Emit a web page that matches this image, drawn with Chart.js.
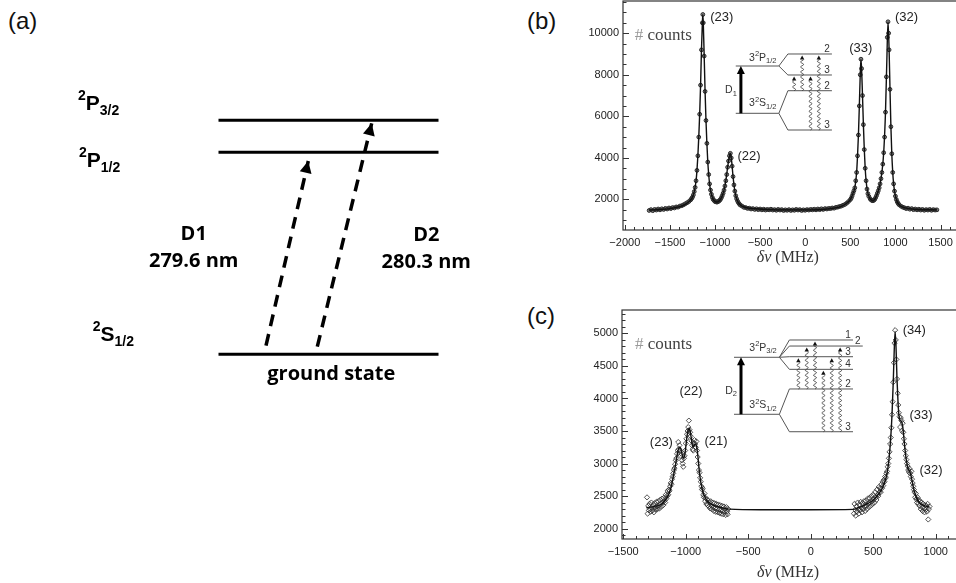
<!DOCTYPE html>
<html lang="en">
<head>
<meta charset="UTF-8">
<title>Mg+ D1 / D2 fluorescence spectra</title>
<script src="https://cdn.jsdelivr.net/npm/chart.js@4"></script>
<style>
  html, body { margin: 0; padding: 0; background: #fff; }
  body { position: relative; width: 956px; height: 583px; overflow: hidden; }
  canvas { position: absolute; }
  .tag { position: absolute; font: 24px/1 'Liberation Sans', Arial, sans-serif; color: #111; }
</style>
</head>
<body>
  <div class="tag" style="left:8px; top:9px">(a)</div>
  <div class="tag" style="left:527px; top:9px">(b)</div>
  <div class="tag" style="left:527px; top:304px">(c)</div>
  <canvas id="scheme" width="520" height="583" style="left:0; top:0"></canvas>
  <canvas id="specD1" width="400" height="275" style="left:560px; top:0"></canvas>
  <canvas id="specD2" width="400" height="284" style="left:560px; top:300px"></canvas>

<script>
// ---------- level scheme (a) ----------
const levelSymbol = ['S', 'P', 'P'];
const levelJ      = ['1/2', '1/2', '3/2'];
const levelEnergy = [0, 2.02, 2.34];          // arbitrary units, ground = 0

const transitionNames      = ['D1', 'D2'];
const transitionWavelength = [279.6, 280.3];  // nm
const transitionUpper      = [1, 2];          // index into levelEnergy

// ---------- D1 scan (b) : [detuning MHz, counts] ----------
const d1Scan = [
  [-1730,1470],[-1710,1510],[-1690,1460],[-1670,1520],[-1650,1490],[-1630,1540],[-1610,1500],[-1590,1550],
  [-1570,1520],[-1550,1570],[-1530,1540],[-1510,1590],[-1490,1560],[-1470,1610],[-1450,1590],[-1430,1640],
  [-1410,1630],[-1390,1680],[-1370,1700],[-1350,1740],[-1330,1790],[-1310,1840],[-1290,1900],[-1270,1980],
  [-1260,2040],[-1250,2110],[-1240,2220],[-1230,2380],[-1220,2580],[-1210,2900],[-1200,3400],[-1190,4100],
  [-1180,5000],[-1170,6100],[-1160,7500],[-1150,9200],[-1140,10500],[-1135,10900],[-1130,10500],[-1120,8900],
  [-1110,7200],[-1100,5800],[-1090,4700],[-1080,3800],[-1070,3200],[-1060,2750],[-1050,2450],[-1040,2250],
  [-1030,2100],[-1020,2000],[-1010,1950],[-1000,1900],[-990,1890],[-980,1870],[-970,1890],[-960,1910],
  [-950,1950],[-940,2000],[-930,2080],[-920,2180],[-910,2300],[-900,2450],[-890,2650],[-880,2900],
  [-870,3200],[-860,3550],[-850,3850],[-840,4100],[-830,4220],[-820,4000],[-810,3600],[-800,3100],
  [-790,2700],[-780,2400],[-770,2180],[-760,2030],[-750,1920],[-740,1840],[-730,1780],[-720,1730],
  [-700,1680],[-680,1620],[-660,1610],[-640,1570],[-620,1580],[-600,1540],[-580,1560],[-560,1520],
  [-540,1550],[-520,1510],[-500,1540],[-480,1500],[-460,1530],[-440,1490],[-420,1520],[-400,1500],
  [-380,1530],[-360,1490],[-340,1510],[-320,1480],[-300,1520],[-280,1490],[-260,1510],[-240,1470],
  [-220,1500],[-200,1480],[-180,1510],[-160,1470],[-140,1500],[-120,1480],[-100,1520],[-80,1490],
  [-60,1510],[-40,1470],[-20,1500],[0,1480],[20,1510],[40,1490],[60,1520],[80,1500],
  [100,1530],[120,1500],[140,1540],[160,1510],[180,1550],[200,1520],[220,1560],[240,1540],
  [260,1570],[280,1560],[300,1590],[320,1580],[340,1620],[360,1630],[380,1660],[400,1680],
  [420,1720],[440,1760],[460,1820],[480,1900],[500,1990],[510,2060],[520,2170],[530,2300],
  [540,2420],[550,2560],[560,2900],[570,3300],[580,4100],[590,5100],[600,6500],[610,8000],
  [618,8750],[625,8300],[635,7000],[645,5600],[655,4400],[665,3500],[675,2900],[685,2500],
  [695,2280],[705,2150],[720,2030],[730,1980],[740,1950],[750,1940],[760,1960],[770,2000],
  [780,2080],[790,2180],[800,2300],[810,2420],[820,2560],[830,2750],[840,3000],[850,3300],
  [860,3700],[870,4250],[880,5000],[890,6200],[900,7900],[910,9800],[918,10550],[925,10000],
  [930,9200],[940,7300],[950,5500],[960,4200],[970,3300],[980,2750],[990,2400],[1000,2160],
  [1010,2000],[1020,1890],[1030,1810],[1040,1750],[1060,1680],[1080,1630],[1100,1600],[1120,1560],
  [1140,1580],[1160,1530],[1180,1560],[1200,1510],[1220,1540],[1240,1500],[1260,1530],[1280,1490],
  [1300,1520],[1320,1480],[1340,1510],[1360,1490],[1380,1520],[1400,1480],[1420,1510],[1440,1490],
  [1460,1500]
];
const d1Fit = [
  [-1730,1490],[-1600,1520],[-1500,1560],[-1400,1640],[-1340,1740],[-1300,1850],[-1270,1980],[-1250,2110],
  [-1230,2380],[-1210,2900],[-1200,3400],[-1190,4100],[-1180,5000],[-1170,6100],[-1160,7500],[-1150,9200],
  [-1140,10500],[-1135,10900],[-1130,10500],[-1120,8900],[-1110,7200],[-1100,5800],[-1090,4700],[-1080,3800],
  [-1070,3200],[-1060,2750],[-1050,2450],[-1040,2250],[-1020,2000],[-1000,1900],[-980,1880],[-960,1910],
  [-940,2000],[-920,2180],[-900,2450],[-880,2900],[-860,3550],[-845,4000],[-830,4220],[-815,3820],
  [-800,3100],[-785,2550],[-770,2180],[-750,1920],[-730,1780],[-700,1680],[-650,1600],[-550,1550],
  [-400,1510],[-200,1500],[0,1500],[200,1520],[300,1570],[400,1670],[460,1820],[500,1990],
  [530,2300],[550,2560],[570,3300],[580,4100],[590,5100],[600,6500],[610,8000],[618,8750],
  [625,8300],[635,7000],[645,5600],[655,4400],[665,3500],[675,2900],[690,2400],[710,2110],
  [730,1980],[750,1940],[770,2000],[790,2180],[810,2420],[830,2750],[850,3300],[870,4250],
  [890,6200],[905,8700],[918,10550],[930,9200],[940,7300],[950,5500],[960,4200],[975,3000],
  [990,2400],[1010,2000],[1040,1750],[1080,1630],[1150,1560],[1250,1520],[1460,1500]
];

// ---------- D2 scan (c) : [detuning MHz, counts] ----------
const d2Scan = [
  [-1310,2480],[-1305,2230],[-1300,2350],[-1295,2280],[-1290,2380],[-1285,2300],[-1280,2260],[-1275,2400],
  [-1270,2330],[-1265,2280],[-1260,2360],[-1255,2250],[-1250,2390],[-1245,2320],[-1240,2290],[-1235,2410],
  [-1230,2340],[-1225,2300],[-1220,2420],[-1215,2350],[-1210,2310],[-1205,2440],[-1200,2380],[-1195,2340],
  [-1190,2460],[-1185,2400],[-1180,2360],[-1175,2470],[-1170,2430],[-1165,2400],[-1160,2520],[-1155,2460],
  [-1150,2500],[-1145,2580],[-1140,2520],[-1135,2600],[-1130,2580],[-1125,2650],[-1120,2700],[-1115,2680],
  [-1110,2760],[-1105,2800],[-1100,2850],[-1095,2900],[-1090,2930],[-1085,2990],[-1080,3050],[-1075,3080],
  [-1070,3150],[-1065,3200],[-1060,3330],[-1055,3220],[-1050,3280],[-1045,3200],[-1040,3120],[-1035,3150],
  [-1030,3050],[-1025,3000],[-1020,2950],[-1015,3080],[-1010,3120],[-1005,3200],[-1000,3310],[-995,3380],
  [-990,3450],[-985,3500],[-980,3560],[-975,3660],[-970,3520],[-965,3480],[-960,3420],[-955,3350],
  [-950,3280],[-945,3220],[-940,3200],[-935,3310],[-930,3360],[-925,3300],[-920,3250],[-915,3340],
  [-910,3200],[-905,3100],[-900,3000],[-895,2900],[-890,2860],[-885,2780],[-880,2720],[-875,2650],
  [-870,2600],[-865,2620],[-860,2520],[-855,2480],[-850,2540],[-845,2420],[-840,2470],[-835,2380],
  [-830,2450],[-825,2360],[-820,2430],[-815,2340],[-810,2400],[-805,2310],[-800,2420],[-795,2350],
  [-790,2300],[-785,2400],[-780,2330],[-775,2270],[-770,2390],[-765,2310],[-760,2260],[-755,2380],
  [-750,2300],[-745,2250],[-740,2370],[-735,2290],[-730,2240],[-725,2360],[-720,2280],[-715,2230],
  [-710,2350],[-705,2270],[-700,2220],[-695,2340],[-690,2260],[-685,2300],[-680,2210],[-675,2330],
  [-670,2260],[-665,2220],[-660,2300],
  [345,2230],[350,2380],[355,2290],[360,2200],[365,2340],[370,2260],[375,2400],[380,2300],
  [385,2230],[390,2370],[395,2280],[400,2410],[405,2320],[410,2250],[415,2390],[420,2300],
  [425,2420],[430,2340],[435,2270],[440,2430],[445,2350],[450,2300],[455,2460],[460,2380],
  [465,2330],[470,2470],[475,2400],[480,2350],[485,2500],[490,2420],[495,2380],[500,2520],
  [505,2450],[510,2400],[515,2560],[520,2480],[525,2440],[530,2600],[535,2520],[540,2500],
  [545,2640],[550,2560],[555,2620],[560,2560],[565,2680],[570,2620],[575,2720],[580,2660],
  [585,2750],[590,2720],[595,2800],[600,2780],[605,2850],[610,2880],[615,2950],[620,3000],
  [625,3080],[630,3180],[635,3300],[640,3400],[645,3550],[650,3750],[655,3950],[660,4250],
  [665,4550],[670,4850],[675,5050],[680,4900],[685,4600],[690,4300],[695,4080],[700,3900],
  [705,3780],[710,3720],[715,3560],[720,3700],[725,3660],[730,3500],[735,3620],[740,3480],
  [745,3380],[750,3300],[755,3200],[760,3120],[765,3060],[770,3000],[775,2960],[780,2900],
  [785,2870],[790,2920],[795,2850],[800,2800],[805,2880],[810,2760],[815,2700],[820,2650],
  [825,2600],[830,2560],[835,2480],[840,2540],[845,2450],[850,2400],[855,2480],[860,2380],
  [865,2440],[870,2350],[875,2420],[880,2300],[885,2400],[890,2330],[895,2270],[900,2380],
  [905,2310],[910,2250],[915,2360],[920,2290],[925,2350],[930,2260],[935,2380],[940,2140],
  [945,2300],[950,2340]
];
const d2Fit = [
  [-1315,2320],[-1280,2330],[-1240,2345],[-1200,2370],[-1170,2420],[-1140,2510],[-1120,2620],[-1100,2800],
  [-1080,3000],[-1065,3170],[-1050,3250],[-1040,3230],[-1030,3150],[-1020,3080],[-1010,3110],[-1000,3250],
  [-990,3420],[-980,3520],[-972,3540],[-965,3500],[-955,3380],[-945,3260],[-935,3270],[-925,3300],
  [-915,3280],[-905,3150],[-895,2950],[-885,2780],[-870,2620],[-855,2520],[-840,2460],[-820,2410],
  [-790,2370],[-750,2340],[-700,2315],[-650,2300],[-400,2290],[0,2290],[340,2295],[380,2320],
  [420,2350],[460,2390],[500,2440],[530,2500],[560,2580],[590,2700],[610,2850],[625,3050],
  [640,3400],[650,3750],[660,4250],[668,4750],[675,5030],[682,4800],[690,4300],[698,3950],
  [705,3750],[715,3660],[725,3650],[735,3580],[745,3400],[755,3200],[765,3050],[778,2930],
  [790,2880],[800,2830],[812,2720],[825,2600],[845,2480],[870,2400],[900,2360],[950,2330]
];

// tick values
const d1TicksX = [-2000, -1500, -1000, -500, 0, 500, 1000, 1500];
const d1TicksY = [2000, 4000, 6000, 8000, 10000];
const d2TicksX = [-1500, -1000, -500, 0, 500, 1000];
const d2TicksY = [2000, 2500, 3000, 3500, 4000, 4500, 5000];

const SANS = "'Liberation Sans', Arial, sans-serif";
const SERIF = "'Liberation Serif', 'Times New Roman', serif";

// runs of text: [string, font, baseline shift]
function drawRuns(ctx, x, y, runs, align) {
  let w = 0;
  const widths = runs.map(r => { ctx.font = r[1]; const m = ctx.measureText(r[0]).width; w += m; return m; });
  let cx = align === 'right' ? x - w : align === 'center' ? x - w / 2 : x;
  ctx.textAlign = 'left';
  ctx.textBaseline = 'alphabetic';
  runs.forEach((r, i) => { ctx.font = r[1]; ctx.fillText(r[0], cx, y + r[2]); cx += widths[i]; });
}

// term symbol like 3²P₁/₂
function termRuns(t, big, small, rise, drop, weight) {
  const b = `${weight} ${big}px ${SANS}`, s = `${weight} ${small}px ${SANS}`;
  const runs = [];
  if (t.pre) runs.push([t.pre, b, 0]);
  runs.push([t.sup, s, -rise], [t.main, b, 0], [t.sub, s, drop]);
  return runs;
}

// ---------- level scheme ----------
const SCHEME = {
  span: [2.185, 4.385],
  foot: [[2.66, 0.086], [3.173, 0.076]],
  tip:  [[3.083, 0.087], [3.717, 0.03]],
  termAt: [[0.927, 0.136], [0.79, 1.876], [0.78, 2.443]],
  nameAt: [[1.937, 1.143], [4.263, 1.136]],
  waveDrop: 0.268,
  groundAt: [3.313, -0.257]
};

const schemeDecor = {
  id: 'schemeDecor',
  afterDatasetsDraw(chart) {
    const { ctx } = chart;
    const X = v => chart.scales.x.getPixelForValue(v);
    const Y = v => chart.scales.y.getPixelForValue(v);
    ctx.save();
    ctx.fillStyle = '#000';
    // arrow heads at the upper end of each transition
    transitionNames.forEach((_, i) => {
      const pts = chart.getDatasetMeta(levelEnergy.length + i).data;
      const a = pts[0], b = pts[pts.length - 1];
      ctx.save();
      ctx.translate(b.x, b.y);
      ctx.rotate(Math.atan2(b.y - a.y, b.x - a.x));
      ctx.beginPath();
      ctx.moveTo(0, 0); ctx.lineTo(-12, -6); ctx.lineTo(-12, 6); ctx.closePath();
      ctx.fill();
      ctx.restore();
    });
    // term symbols
    levelSymbol.forEach((sym, i) => {
      const [tx, ty] = SCHEME.termAt[i];
      drawRuns(ctx, X(tx), Y(ty), termRuns({ sup: '2', main: sym, sub: levelJ[i] }, 21, 14, 10, 5, 'bold'), 'left');
    });
    // transition names and wavelengths
    ctx.font = "bold 20px 'Open Sans', sans-serif";
    ctx.textAlign = 'center';
    ctx.textBaseline = 'alphabetic';
    transitionNames.forEach((n, i) => {
      const [nx, ny] = SCHEME.nameAt[i];
      ctx.fillText(n, X(nx), Y(ny));
      ctx.fillText(transitionWavelength[i].toFixed(1) + ' nm', X(nx), Y(ny - SCHEME.waveDrop));
    });
    ctx.fillText('ground state', X(SCHEME.groundAt[0]), Y(SCHEME.groundAt[1]));
    ctx.restore();
  }
};

const schemeSets = levelEnergy.map(e => ({
  data: [{ x: SCHEME.span[0], y: e }, { x: SCHEME.span[1], y: e }],
  showLine: true, borderColor: '#000', borderWidth: 3, pointRadius: 0
})).concat(transitionNames.map((_, i) => ({
  data: [
    { x: SCHEME.foot[i][0], y: levelEnergy[0] + SCHEME.foot[i][1] },
    { x: SCHEME.tip[i][0], y: levelEnergy[transitionUpper[i]] - SCHEME.tip[i][1] }
  ],
  showLine: true, borderColor: '#000', borderWidth: 3.5, borderDash: [12, 8], pointRadius: 0
})));

new Chart(document.getElementById('scheme'), {
  type: 'scatter',
  data: { datasets: schemeSets },
  options: {
    responsive: false, animation: false, devicePixelRatio: 1,
    layout: { padding: 0, autoPadding: false },
    plugins: { legend: { display: false }, tooltip: { enabled: false } },
    scales: {
      x: { display: false, min: 0, max: 5.2 },
      y: { display: false, min: -2.287, max: 3.543 }
    }
  },
  plugins: [schemeDecor]
});

// ---------- spectra ----------
function drawInset(ctx, X, Y, s) {
  ctx.strokeStyle = '#555';
  ctx.lineWidth = 1;
  ctx.beginPath();
  for (const g of [s.upper, s.lower]) {
    ctx.moveTo(X(s.stem[0]), Y(g.y));
    ctx.lineTo(X(s.stem[1]), Y(g.y));
    for (const lv of g.sub) {
      ctx.moveTo(X(s.stem[1]), Y(g.y));
      ctx.lineTo(X(s.fanX), Y(lv.y));
      ctx.lineTo(X(lv.end || s.lineEnd), Y(lv.y));
    }
  }
  ctx.stroke();

  ctx.fillStyle = '#333';
  ctx.font = `10px ${SANS}`;
  ctx.textAlign = 'center';
  ctx.textBaseline = 'alphabetic';
  for (const g of [s.upper, s.lower])
    for (const lv of g.sub) ctx.fillText(lv.n, X(lv.end || s.lineEnd) - 5, Y(lv.y) - 2);

  for (const g of [s.upper, s.lower])
    drawRuns(ctx, X(s.termRight), Y(g.textY), termRuns(g.term, 10.5, 7.5, 4.5, 2.5, 'normal'), 'right');

  // laser arrow
  ctx.strokeStyle = '#000';
  ctx.fillStyle = '#000';
  ctx.lineWidth = 3;
  const ax = X(s.arrowX), y0 = Y(s.lower.y), y1 = Y(s.upper.y);
  ctx.beginPath(); ctx.moveTo(ax, y0); ctx.lineTo(ax, y1 + 7); ctx.stroke();
  ctx.beginPath(); ctx.moveTo(ax, y1); ctx.lineTo(ax - 4, y1 + 8); ctx.lineTo(ax + 4, y1 + 8); ctx.closePath(); ctx.fill();
  ctx.fillStyle = '#333';
  drawRuns(ctx, X(s.dLabel[0]), Y(s.dLabel[1]),
    [['D', `10.5px ${SANS}`, 0], [s.dLabel[2], `7.5px ${SANS}`, 2.5]], 'right');

  // fluorescence decay paths (wavy, arrow up)
  ctx.strokeStyle = '#444';
  ctx.fillStyle = '#111';
  ctx.lineWidth = 0.9;
  for (const [dx, from, to] of s.decays) {
    const px = X(dx), p0 = Y(from), p1 = Y(to) + 1.5, base = p1 + 4;
    ctx.beginPath();
    for (let t = p0; t >= base; t -= 0.5) {
      const xx = px + 1.5 * Math.sin((p0 - t) * 2 * Math.PI / 5);
      t === p0 ? ctx.moveTo(xx, t) : ctx.lineTo(xx, t);
    }
    ctx.stroke();
    ctx.beginPath(); ctx.moveTo(px, p1); ctx.lineTo(px - 2.2, base); ctx.lineTo(px + 2.2, base); ctx.closePath(); ctx.fill();
  }
}

const spectrumDecor = {
  id: 'spectrumDecor',
  afterDatasetsDraw(chart, args, o) {
    const { ctx, chartArea: a } = chart;
    const sx = chart.scales.x, sy = chart.scales.y;
    const X = v => sx.getPixelForValue(v), Y = v => sy.getPixelForValue(v);
    ctx.save();

    // frame
    ctx.strokeStyle = '#333';
    ctx.lineWidth = 1.2;
    ctx.strokeRect(a.left, a.top, a.right - a.left, a.bottom - a.top);

    // inward tick marks, long on labelled values
    ctx.lineWidth = 1;
    ctx.beginPath();
    for (let i = Math.ceil(sx.min / o.xMinor); i * o.xMinor <= sx.max; i++) {
      const v = i * o.xMinor, p = Math.round(X(v)) + 0.5, len = v % o.xMajor === 0 ? 5 : 3;
      ctx.moveTo(p, a.bottom); ctx.lineTo(p, a.bottom - len);
    }
    for (let i = Math.ceil(sy.min / o.yMinor); i * o.yMinor <= sy.max; i++) {
      const v = i * o.yMinor, p = Math.round(Y(v)) + 0.5, len = v % o.yMajor === 0 ? 6 : 3.5;
      ctx.moveTo(a.left, p); ctx.lineTo(a.left + len, p);
    }
    ctx.stroke();

    drawInset(ctx, X, Y, o.inset);

    // "# counts"
    ctx.font = `17px ${SERIF}`;
    ctx.textAlign = 'left';
    ctx.textBaseline = 'alphabetic';
    ctx.fillStyle = '#999';
    ctx.fillText('#', X(o.counts[0]), Y(o.counts[1]));
    const hw = ctx.measureText('# ').width;
    ctx.fillStyle = '#444';
    ctx.fillText('counts', X(o.counts[0]) + hw, Y(o.counts[1]));

    // peak assignments
    ctx.fillStyle = '#222';
    ctx.font = `13px ${SANS}`;
    ctx.textAlign = 'center';
    for (const [t, px, py] of o.peaks) ctx.fillText(t, X(px), Y(py));

    // axis title
    ctx.fillStyle = '#333';
    drawRuns(ctx, X(o.title[0]), a.bottom + o.title[1],
      [['\u03B4\u03BD', `italic 16px ${SERIF}`, 0], [' (MHz)', `16px ${SERIF}`, 0]], 'center');
    ctx.restore();
  }
};

const fmt = v => String(v).replace('-', '\u2212');

function spectrumChart(id, o) {
  const pts = arr => arr.map(([x, y]) => ({ x, y }));
  const tickFont = { family: 'Liberation Sans', size: 11 };
  return new Chart(document.getElementById(id), {
    type: 'scatter',
    data: {
      datasets: [
        { data: pts(o.fit), showLine: true, pointRadius: 0, borderColor: '#111', borderWidth: 1.4,
          cubicInterpolationMode: 'monotone' },
        { data: pts(o.scan), showLine: false, pointStyle: o.marker, pointRadius: o.markerRadius,
          borderWidth: o.markerBorder, borderColor: '#2a2a2a', backgroundColor: o.markerFill }
      ]
    },
    options: {
      responsive: false, animation: false, devicePixelRatio: 1,
      layout: { autoPadding: false, padding: { top: o.padTop, right: 0, bottom: 0, left: 0 } },
      plugins: { legend: { display: false }, tooltip: { enabled: false }, spectrumDecor: o.decor },
      scales: {
        x: {
          type: 'linear', min: o.xRange[0], max: o.xRange[1],
          grid: { display: false, drawTicks: false }, border: { display: false },
          afterBuildTicks: s => { s.ticks = o.xTicks.map(v => ({ value: v })); },
          afterFit: s => { s.height = 45; s.paddingLeft = 0; s.paddingRight = 0; },
          ticks: { padding: 6, color: '#222', font: tickFont, callback: fmt, autoSkip: false, maxRotation: 0 }
        },
        y: {
          type: 'linear', min: o.yRange[0], max: o.yRange[1],
          grid: { display: false, drawTicks: false }, border: { display: false },
          afterBuildTicks: s => { s.ticks = o.yTicks.map(v => ({ value: v })); },
          afterFit: s => { s.width = o.yAxisWidth; s.paddingTop = 0; s.paddingBottom = 0; },
          ticks: { padding: 4, color: '#222', font: tickFont, callback: fmt, autoSkip: false }
        }
      }
    },
    plugins: [spectrumDecor]
  });
}

const insetD1 = {
  stem: [-770, -292], fanX: -192, lineEnd: 296, termRight: -318,
  upper: { y: 8422, textY: 8677, term: { pre: '3', sup: '2', main: 'P', sub: '1/2' },
           sub: [{ y: 9000, n: '2' }, { y: 7989, n: '3' }] },
  lower: { y: 6146, textY: 6497, term: { pre: '3', sup: '2', main: 'S', sub: '1/2' },
           sub: [{ y: 7233, n: '2' }, { y: 5342, n: '3' }] },
  arrowX: -713, dLabel: [-758, 7122, '1'],
  decays: [[-123, 7233, 7989], [-34, 7233, 9000], [59, 5342, 7989], [151, 5342, 9000]]
};

const insetD2 = {
  stem: [-614, -251], fanX: -171, lineEnd: 338, termRight: -272,
  upper: { y: 4633, textY: 4734, term: { pre: '3', sup: '2', main: 'P', sub: '3/2' },
           sub: [{ y: 4899, n: '1' }, { y: 4806, n: '2', end: 416 }, { y: 4642, n: '3' }, { y: 4448, n: '4' }] },
  lower: { y: 3757, textY: 3849, term: { pre: '3', sup: '2', main: 'S', sub: '1/2' },
           sub: [{ y: 4146, n: '2' }, { y: 3489, n: '3' }] },
  arrowX: -558, dLabel: [-590, 4069, '2'],
  decays: [[-99, 4146, 4642], [-32, 4146, 4806], [34, 4146, 4899],
           [101, 3489, 4448], [168, 3489, 4642], [235, 3489, 4806]]
};

spectrumChart('specD1', {
  scan: d1Scan, fit: d1Fit, xTicks: d1TicksX, yTicks: d1TicksY,
  xRange: [-2020, 1716], yRange: [530, 11550], padTop: 1, yAxisWidth: 63,
  marker: 'circle', markerRadius: 1.9, markerBorder: 1, markerFill: 'rgba(60,60,60,0.6)',
  decor: {
    xMinor: 100, xMajor: 500, yMinor: 500, yMajor: 2000,
    counts: [-1889, 9673], title: [-193, 31.7], inset: insetD1,
    peaks: [['(23)', -925, 10587], ['(22)', -622, 3898], ['(33)', 616, 9095], ['(32)', 1123, 10587]]
  }
});

spectrumChart('specD2', {
  scan: d2Scan, fit: d2Fit, xTicks: d2TicksX, yTicks: d2TicksY,
  xRange: [-1510, 1194], yRange: [1840, 5360], padTop: 10, yAxisWidth: 62,
  marker: 'rectRot', markerRadius: 2.6, markerBorder: 0.8, markerFill: 'rgba(0,0,0,0)',
  decor: {
    xMinor: 100, xMajor: 500, yMinor: 100, yMajor: 500,
    counts: [-1406, 4760], title: [-182, 37.7], inset: insetD2,
    peaks: [['(34)', 828, 4986], ['(22)', -958, 4049], ['(23)', -1195, 3269],
            ['(21)', -758, 3285], ['(33)', 882, 3684], ['(32)', 962, 2839]]
  }
});
</script>
</body>
</html>
